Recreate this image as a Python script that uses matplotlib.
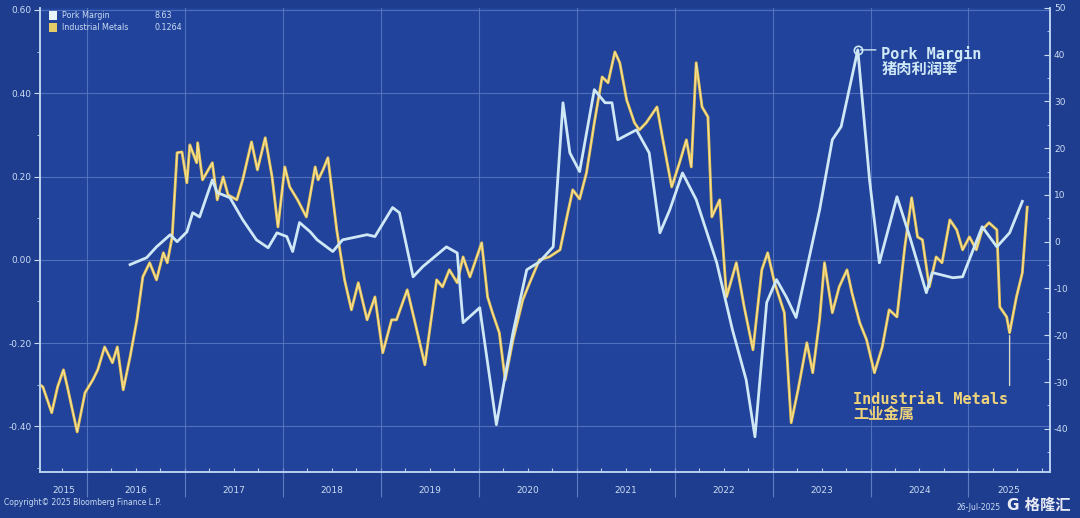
import numpy as np
import matplotlib.pyplot as plt
from matplotlib.ticker import MultipleLocator, FixedLocator, NullFormatter

# pork margin (right axis), decimal year / value
pork_t = [2016.44, 2016.61, 2016.71, 2016.85, 2016.92, 2017.02, 2017.08, 2017.15, 2017.28, 2017.33,
          2017.46, 2017.59, 2017.73, 2017.85, 2017.94, 2018.04, 2018.10, 2018.17, 2018.28, 2018.35,
          2018.51, 2018.61, 2018.86, 2018.94, 2019.12, 2019.19, 2019.33, 2019.43, 2019.67, 2019.78,
          2019.84, 2020.01, 2020.18, 2020.35, 2020.49, 2020.62, 2020.76, 2020.86, 2020.93, 2021.03,
          2021.18, 2021.29, 2021.36, 2021.42, 2021.61, 2021.74, 2021.85, 2021.95, 2022.08, 2022.22,
          2022.43, 2022.59, 2022.73, 2022.82, 2022.94, 2023.04, 2023.14, 2023.24, 2023.48, 2023.61,
          2023.70, 2023.87, 2023.99, 2024.09, 2024.27, 2024.40, 2024.57, 2024.63, 2024.84, 2024.94,
          2025.14, 2025.29, 2025.42, 2025.55]
pork_v = [-4.9, -3.4, -1.1, 1.5, 0.0, 2.1, 6.2, 5.3, 13.2, 10.5,
          9.4, 4.7, 0.4, -1.3, 1.9, 1.1, -2.1, 4.1, 2.1, 0.4,
          -2.1, 0.4, 1.5, 1.1, 7.3, 6.2, -7.5, -5.3, -1.1, -2.4,
          -17.3, -14.1, -39.1, -19.4, -6.0, -4.3, -1.1, 29.7, 19.0, 15.0,
          32.5, 29.7, 29.7, 21.8, 23.9, 19.0, 1.9, 6.8, 14.7, 9.0,
          -4.5, -18.8, -29.5, -41.7, -13.0, -8.1, -11.8, -16.2, 6.8, 21.8,
          24.6, 41.0, 13.2, -4.5, 9.6, 1.1, -10.9, -6.6, -7.7, -7.5,
          3.2, -1.1, 1.9, 8.63]

# industrial metals (left axis)
metal_t = [2015.52, 2015.55, 2015.64, 2015.70, 2015.76, 2015.80, 2015.90, 2015.98, 2016.06, 2016.11,
           2016.18, 2016.26, 2016.31, 2016.37, 2016.44, 2016.51, 2016.57, 2016.64, 2016.71, 2016.78,
           2016.82, 2016.87, 2016.92, 2016.97, 2017.02, 2017.05, 2017.12, 2017.13, 2017.18, 2017.28,
           2017.33, 2017.39, 2017.44, 2017.53, 2017.59, 2017.68, 2017.74, 2017.82, 2017.89, 2017.95,
           2018.02, 2018.07, 2018.15, 2018.24, 2018.33, 2018.36, 2018.41, 2018.46, 2018.55, 2018.63,
           2018.70, 2018.77, 2018.86, 2018.94, 2019.02, 2019.11, 2019.16, 2019.27, 2019.35, 2019.45,
           2019.57, 2019.63, 2019.70, 2019.78, 2019.84, 2019.91, 2020.03, 2020.09, 2020.14, 2020.21,
           2020.27, 2020.35, 2020.45, 2020.52, 2020.62, 2020.72, 2020.83, 2020.90, 2020.96, 2021.03,
           2021.10, 2021.18, 2021.26, 2021.32, 2021.39, 2021.44, 2021.51, 2021.59, 2021.64, 2021.71,
           2021.82, 2021.88, 2021.97, 2022.05, 2022.12, 2022.17, 2022.22, 2022.28, 2022.34, 2022.38,
           2022.46, 2022.53, 2022.63, 2022.71, 2022.80, 2022.89, 2022.95, 2023.02, 2023.12, 2023.19,
           2023.26, 2023.35, 2023.41, 2023.48, 2023.53, 2023.61, 2023.68, 2023.76, 2023.81, 2023.89,
           2023.96, 2024.04, 2024.12, 2024.19, 2024.27, 2024.35, 2024.42, 2024.48, 2024.53, 2024.60,
           2024.67, 2024.73, 2024.81, 2024.88, 2024.94, 2025.01, 2025.08, 2025.14, 2025.21, 2025.29,
           2025.32, 2025.39, 2025.42, 2025.49, 2025.55, 2025.60]
metal_v = [-0.300, -0.305, -0.367, -0.305, -0.264, -0.305, -0.413, -0.319, -0.288, -0.264,
           -0.209, -0.247, -0.209, -0.312, -0.233, -0.144, -0.041, -0.007, -0.048, 0.017,
           -0.007, 0.055, 0.257, 0.259, 0.185, 0.276, 0.233, 0.281, 0.192, 0.233,
           0.144, 0.199, 0.156, 0.144, 0.192, 0.283, 0.216, 0.293, 0.199, 0.079,
           0.223, 0.175, 0.144, 0.103, 0.223, 0.192, 0.216, 0.245, 0.072, -0.048,
           -0.120, -0.055, -0.144, -0.089, -0.223, -0.144, -0.144, -0.072, -0.151, -0.252,
           -0.048, -0.065, -0.024, -0.055, 0.007, -0.041, 0.041, -0.089, -0.127, -0.175,
           -0.288, -0.192, -0.096, -0.055, 0.000, 0.007, 0.024, 0.103, 0.168, 0.146,
           0.209, 0.329, 0.439, 0.425, 0.499, 0.473, 0.384, 0.329, 0.312, 0.329,
           0.367, 0.288, 0.175, 0.233, 0.288, 0.223, 0.473, 0.367, 0.343, 0.103,
           0.144, -0.089, -0.007, -0.113, -0.216, -0.024, 0.017, -0.055, -0.127, -0.391,
           -0.312, -0.199, -0.271, -0.144, -0.007, -0.127, -0.065, -0.024, -0.079, -0.151,
           -0.192, -0.271, -0.209, -0.120, -0.137, 0.031, 0.149, 0.055, 0.048, -0.065,
           0.007, -0.007, 0.096, 0.072, 0.024, 0.055, 0.024, 0.072, 0.089, 0.072,
           -0.113, -0.137, -0.175, -0.089, -0.031, 0.1264]

years = list(range(2015, 2026))

bg = '#22439b'
grid_c = '#5d7cc4'
txt_c = '#c9dcf2'
pork_c = '#cfe8f6'
metal_c = '#e8c552'

fig = plt.figure(figsize=(10.8, 5.18), dpi=100, facecolor='#1f3d8f')
ax = fig.add_axes([0.037, 0.089, 0.935, 0.896], facecolor=bg)
ax2 = ax.twinx()

ax.plot(metal_t, metal_v, color=metal_c, lw=2.0, zorder=3)
ax.plot(metal_t, metal_v, color='#f6e7b0', lw=0.6, zorder=3)
ax2.plot(pork_t, pork_v, color=pork_c, lw=2.0, zorder=4)

x0, x1 = 2015.52, 2025.83
ax.set_xlim(x0, x1)
ax.set_ylim(-0.509, 0.605)
ax2.set_ylim(-49.2, 50)

# x axis: year separators + labels centred on the visible part of each year
ax.xaxis.set_major_locator(FixedLocator(years[1:]))
ax.xaxis.set_major_formatter(NullFormatter())
label_pos = [(max(y, x0) + min(y + 1, x1)) / 2 for y in years]
ax.xaxis.set_minor_locator(FixedLocator(label_pos))
ax.set_xticklabels([str(y) for y in years], minor=True)
ax.tick_params(axis='x', which='major', length=18, color=grid_c, width=0.8, direction='out')
ax.tick_params(axis='x', which='minor', length=0, pad=10, labelsize=6.5, labelcolor=txt_c)

# small quarter marks along the bottom spine
qax = ax.secondary_xaxis('bottom')
qax.xaxis.set_major_locator(MultipleLocator(0.25))
qax.xaxis.set_major_formatter(NullFormatter())
qax.tick_params(axis='x', length=3, direction='in', color='#b9d2ef', width=0.8)
qax.spines['bottom'].set_visible(False)

ax.yaxis.set_major_locator(MultipleLocator(0.2))
ax.yaxis.set_minor_locator(MultipleLocator(0.1))
ax.yaxis.set_major_formatter(lambda v, p: f'{v:.2f}')
ax.tick_params(axis='y', which='both', direction='out', color=txt_c, labelsize=6.5, labelcolor=txt_c)
ax.tick_params(axis='y', which='major', length=4, pad=2)
ax.tick_params(axis='y', which='minor', length=2)

ax2.yaxis.set_major_locator(MultipleLocator(10))
ax2.yaxis.set_minor_locator(MultipleLocator(5))
ax2.yaxis.set_major_formatter(lambda v, p: f'{v:.0f}')
ax2.tick_params(axis='y', which='both', direction='in', color=txt_c, labelsize=6.5, labelcolor=txt_c)
ax2.tick_params(axis='y', which='major', length=4, pad=3)
ax2.tick_params(axis='y', which='minor', length=2)

ax.grid(True, which='major', color=grid_c, lw=0.8, alpha=0.8)
for a in (ax, ax2):
    a.spines['top'].set_visible(False)
    for s in ('left', 'right', 'bottom'):
        a.spines[s].set_color('#b9d2ef')
        a.spines[s].set_linewidth(1.2)

# annotations
ann_font = ['DejaVu Sans Mono', 'Noto Sans CJK SC']
ip = int(np.argmax(pork_v))
ax2.plot(pork_t[ip], pork_v[ip], 'o', ms=6, mfc='none', mec=pork_c, mew=1.2, zorder=5)
ax2.annotate('', xy=(pork_t[ip], pork_v[ip]), xytext=(15, 0), textcoords='offset points',
             arrowprops=dict(arrowstyle='-', color=pork_c, lw=1))
ax2.annotate('Pork Margin\n猪肉利润率', xy=(pork_t[ip], pork_v[ip]), xytext=(17, 3),
             textcoords='offset points', ha='left', va='top', fontsize=11, fontweight='bold',
             color=pork_c, family=ann_font, linespacing=1.0)

im = len(metal_v) - 4
ax.annotate('', xy=(metal_t[im], metal_v[im]), xytext=(0, -40), textcoords='offset points',
            arrowprops=dict(arrowstyle='-', color='#d8d8c8', lw=1))
ax.annotate('Industrial Metals\n工业金属', xy=(metal_t[im], metal_v[im]), xytext=(-1, -43),
            textcoords='offset points', ha='right', va='top', multialignment='left',
            fontsize=11, fontweight='bold', color='#efd37a', family=ann_font, linespacing=1.0)

# legend block
fig.patches.append(plt.Rectangle((0.045, 0.962), 0.008, 0.016, transform=fig.transFigure,
                                 facecolor='#e9f4f8', edgecolor='none', zorder=6))
fig.patches.append(plt.Rectangle((0.045, 0.939), 0.008, 0.016, transform=fig.transFigure,
                                 facecolor='#e6cc66', edgecolor='none', zorder=6))
fig.text(0.057, 0.970, 'Pork Margin', fontsize=5.8, color=txt_c, va='center', zorder=7)
fig.text(0.143, 0.970, f'{pork_v[-1]:.2f}', fontsize=5.8, color=txt_c, va='center', zorder=7)
fig.text(0.057, 0.947, 'Industrial Metals', fontsize=5.8, color=txt_c, va='center', zorder=7)
fig.text(0.143, 0.947, f'{metal_v[-1]:.4f}', fontsize=5.8, color=txt_c, va='center', zorder=7)

fig.text(0.004, 0.030, 'Copyright© 2025 Bloomberg Finance L.P.', fontsize=5.5, color=txt_c, va='center')
fig.text(0.886, 0.020, '26-Jul-2025', fontsize=5.5, color=txt_c, va='center')
fig.text(0.932, 0.024, 'G 格隆汇', fontsize=11, color='white', va='center',
         family=['DejaVu Sans', 'Noto Sans CJK SC'], fontweight='bold', alpha=0.9)

fig.savefig('out.png', dpi=100, facecolor=fig.get_facecolor())
